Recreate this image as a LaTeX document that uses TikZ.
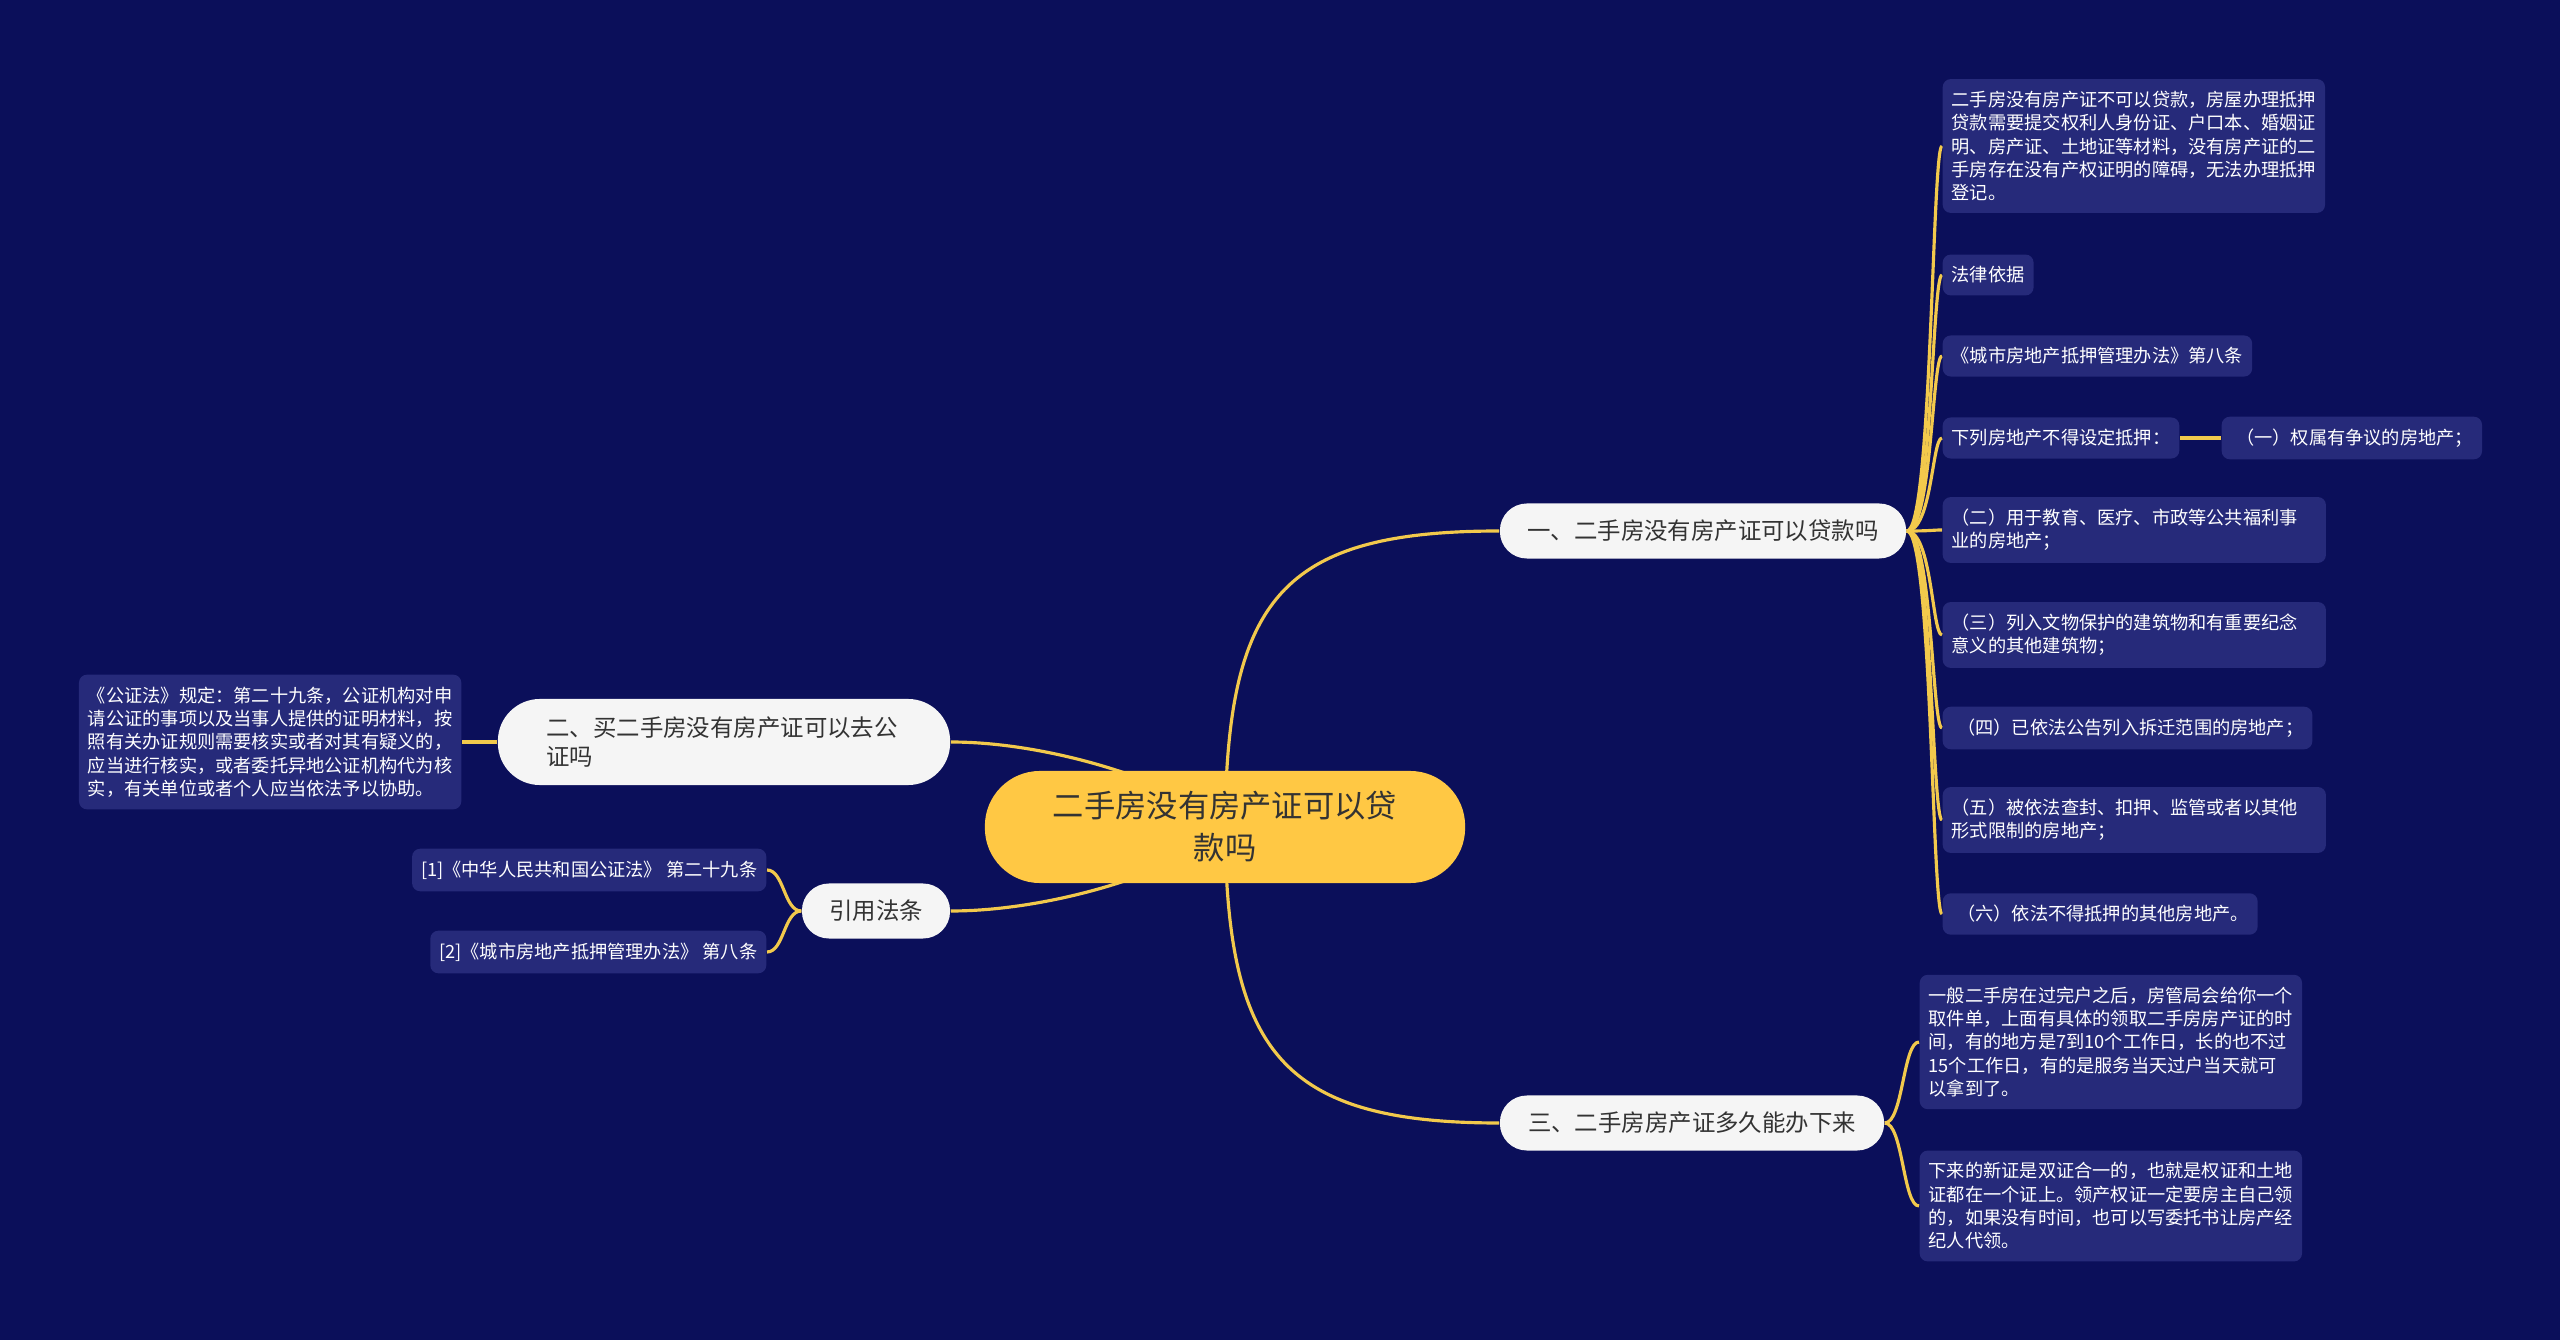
\documentclass[tikz,border=0pt]{standalone}
\usepackage{fontspec}
\setmainfont{Noto Sans CJK SC}
\usetikzlibrary{positioning}
\definecolor{Night}{RGB}{11, 15, 90}
\definecolor{Card}{RGB}{38, 42, 122}
\definecolor{Gold}{RGB}{255, 200, 68}
\definecolor{Wire}{RGB}{242, 201, 76}
\definecolor{Pale}{RGB}{245, 245, 245}
\definecolor{Ink}{RGB}{51, 51, 51}
\pgfdeclarelayer{bg}
\pgfdeclarelayer{wires}
\pgfsetlayers{bg,wires,main}

\begin{document}
\begin{tikzpicture}[x=0.01cm, y=-0.01cm,
    root/.style={fill=Gold, text=Ink, rounded corners=0.55cm, minimum width=4.8cm, minimum height=1.12cm, align=center, font=\fontsize{8.9pt}{11.9pt}\selectfont},
    topic/.style={fill=Pale, text=Ink, rounded corners=0.27cm, minimum height=0.55cm, font=\fontsize{6.66pt}{8.5pt}\selectfont},
    card/.style={fill=Card, text=white, rounded corners=0.08cm, inner xsep=0.09cm, inner ysep=0.12cm, align=left, font=\fontsize{5.18pt}{6.63pt}\selectfont},
    wire/.style={draw=Wire, line width=0.9pt}]

    % Background
    \begin{pgfonlayer}{bg}
        \fill[Night] (0, 0) rectangle (2560, 1340);
    \end{pgfonlayer}

    % Root
    \node[root] (root) at (1225, 827) {二手房没有房产证可以贷\\款吗};

    % Topics
    \node[topic, minimum width=4.06cm] (b1) at (1703, 531) {一、二手房没有房产证可以贷款吗};
    \node[topic, minimum width=4.52cm, minimum height=0.86cm, text width=3.55cm, align=left, rounded corners=0.42cm] (b2) at (724, 742) {二、买二手房没有房产证可以去公\\证吗};
    \node[topic, minimum width=3.84cm] (b3) at (1692, 1123) {三、二手房房产证多久能办下来};
    \node[topic, minimum width=1.48cm] (cite) at (876, 911) {引用法条};

    % Leaves of topic one
    \node[card, anchor=west] (a1) at (1942, 146) {二手房没有房产证不可以贷款，房屋办理抵押\\贷款需要提交权利人身份证、户口本、婚姻证\\明、房产证、土地证等材料，没有房产证的二\\手房存在没有产权证明的障碍，无法办理抵押\\登记。};
    \node[card, anchor=west] (a2) at (1942, 275) {法律依据};
    \node[card, anchor=west] (a3) at (1942, 356) {《城市房地产抵押管理办法》第八条};
    \node[card, anchor=west] (a4) at (1942, 438) {下列房地产不得设定抵押：};
    \node[card, anchor=west] (a5) at (2221, 438) {\hspace{0.3em}（一）权属有争议的房地产；};
    \node[card, anchor=west, text width=3.65cm] (a6) at (1942, 530) {（二）用于教育、医疗、市政等公共福利事\\业的房地产；};
    \node[card, anchor=west, text width=3.65cm] (a7) at (1942, 635) {（三）列入文物保护的建筑物和有重要纪念\\意义的其他建筑物；};
    \node[card, anchor=west] (a8) at (1942, 728) {\hspace{0.3em}（四）已依法公告列入拆迁范围的房地产；};
    \node[card, anchor=west, text width=3.65cm] (a9) at (1942, 820) {（五）被依法查封、扣押、监管或者以其他\\形式限制的房地产；};
    \node[card, anchor=west] (a10) at (1942, 914) {\hspace{0.3em}（六）依法不得抵押的其他房地产。};

    % Leaves of topic two and three
    \node[card, anchor=east] (n1) at (462, 742) {《公证法》规定：第二十九条，公证机构对申\\请公证的事项以及当事人提供的证明材料，按\\照有关办证规则需要核实或者对其有疑义的，\\应当进行核实，或者委托异地公证机构代为核\\实，有关单位或者个人应当依法予以协助。};
    \node[card, anchor=west] (c1) at (1919, 1042) {一般二手房在过完户之后，房管局会给你一个\\取件单，上面有具体的领取二手房房产证的时\\间，有的地方是7到10个工作日，长的也不过\\15个工作日，有的是服务当天过户当天就可\\以拿到了。};
    \node[card, anchor=west] (c2) at (1919, 1206) {下来的新证是双证合一的，也就是权证和土地\\证都在一个证上。领产权证一定要房主自己领\\的，如果没有时间，也可以写委托书让房产经\\纪人代领。};

    % References
    \node[card, anchor=east] (r1) at (767, 870) {[1]《中华人民共和国公证法》 第二十九条};
    \node[card, anchor=east] (r2) at (767, 952) {[2]《城市房地产抵押管理办法》 第八条};

    % Bends of the braces
    \coordinate (t1) at (1932, 531);
    \coordinate (t3) at (1903, 1123);
    \coordinate (tc) at (784, 911);

    % Connectors
    \begin{pgfonlayer}{wires}
        \draw[wire] (root.center) .. controls (1227, 600) and (1280, 531) .. (b1.west);
        \draw[wire] (root.center) .. controls (1227, 1050) and (1280, 1123) .. (b3.west);
        \draw[wire] (root.center) .. controls (1195, 790) and (1060, 742) .. (b2.east);
        \draw[wire] (root.center) .. controls (1195, 865) and (1060, 911) .. (cite.east);
        \foreach \leaf in {a1, a2, a3, a4, a6, a7, a8, a9, a10}
            \draw[wire] (b1.east) .. controls (t1) and (t1 |- \leaf.west) .. (\leaf.west);
        \draw[wire] (a4) -- (a5);
        \draw[wire] (b2) -- (n1);
        \foreach \leaf in {c1, c2}
            \draw[wire] (b3.east) .. controls (t3) and (t3 |- \leaf.west) .. (\leaf.west);
        \foreach \leaf in {r1, r2}
            \draw[wire] (cite.west) .. controls (tc) and (tc |- \leaf.east) .. (\leaf.east);
    \end{pgfonlayer}
\end{tikzpicture}
\end{document}
